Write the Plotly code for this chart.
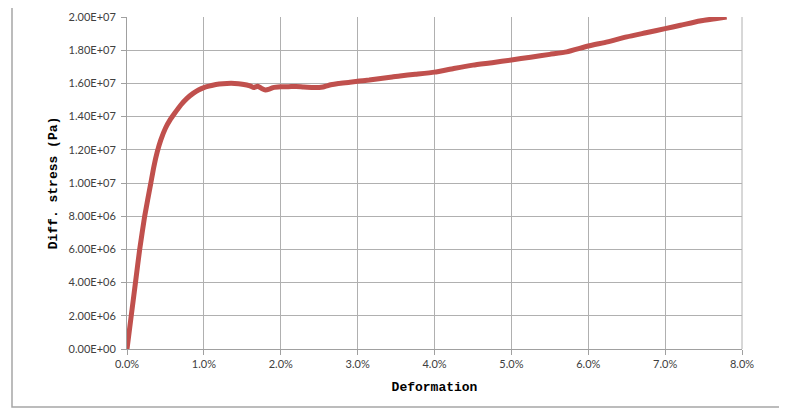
import plotly.graph_objects as go

# Deformation in percent, differential stress in Pa
deformation_pct = [0.00, 0.055, 0.11, 0.165, 0.23, 0.31, 0.35, 0.395, 0.44, 0.50, 0.56, 0.62,
                   0.70, 0.78, 0.86, 0.93, 1.00,
                   1.10, 1.20, 1.30, 1.40, 1.50, 1.60, 1.65, 1.70, 1.75, 1.80, 1.85, 1.90,
                   2.00, 2.10, 2.20, 2.30, 2.40, 2.50, 2.55, 2.60, 2.65, 2.75, 2.90, 3.00,
                   3.15, 3.30, 3.45, 3.55, 3.75, 4.00, 4.25, 4.50, 4.75, 5.00, 5.25, 5.50,
                   5.72, 6.00, 6.25, 6.50, 6.75, 7.00, 7.20, 7.45, 7.65, 7.80]
diff_stress = [0.0, 2.0e6, 4.0e6, 6.0e6, 8.0e6, 1.0e7, 1.1e7, 1.19e7, 1.26e7, 1.33e7, 1.38e7, 1.42e7,
               1.47e7, 1.51e7, 1.54e7, 1.56e7, 1.575e7,
               1.587e7, 1.596e7, 1.60e7, 1.60e7, 1.595e7, 1.585e7, 1.575e7, 1.583e7, 1.57e7, 1.56e7, 1.565e7, 1.575e7,
               1.58e7, 1.58e7, 1.582e7, 1.578e7, 1.576e7, 1.575e7, 1.578e7, 1.585e7, 1.592e7, 1.60e7, 1.607e7, 1.613e7,
               1.62e7, 1.63e7, 1.638e7, 1.645e7, 1.655e7, 1.668e7, 1.69e7, 1.71e7, 1.725e7, 1.741e7, 1.758e7, 1.775e7,
               1.79e7, 1.825e7, 1.85e7, 1.88e7, 1.905e7, 1.93e7, 1.95e7, 1.976e7, 1.99e7, 2.0e7]

x_tickvals = [0, 1, 2, 3, 4, 5, 6, 7, 8]
x_ticktext = ["0.0%", "1.0%", "2.0%", "3.0%", "4.0%", "5.0%", "6.0%", "7.0%", "8.0%"]
y_tickvals = [0, 2e6, 4e6, 6e6, 8e6, 1e7, 1.2e7, 1.4e7, 1.6e7, 1.8e7, 2e7]
y_ticktext = ["0.00E+00", "2.00E+06", "4.00E+06", "6.00E+06", "8.00E+06", "1.00E+07",
              "1.20E+07", "1.40E+07", "1.60E+07", "1.80E+07", "2.00E+07"]

fig = go.Figure()
fig.add_trace(go.Scatter(
    x=deformation_pct, y=diff_stress, mode="lines",
    line=dict(color="#C0504D", width=5, shape="spline", smoothing=0.5),
    showlegend=False, hoverinfo="skip",
))

tick_font = dict(family="Lato, 'Open Sans', sans-serif", size=11, color="#404040")
title_font = dict(family="'Liberation Mono', 'DejaVu Sans Mono', monospace", size=13, color="#000000")

# The page body adds an 8px offset; the figure is sized to fill the rest of the window.
fig.update_layout(
    width=779, height=404,
    margin=dict(l=119, r=45, t=9, b=63),
    paper_bgcolor="white", plot_bgcolor="white",
    xaxis=dict(
        range=[0, 8], tickvals=x_tickvals, ticktext=x_ticktext,
        showgrid=True, gridcolor="#B0B0B0", gridwidth=1,
        showline=True, linecolor="#A0A0A0", linewidth=1,
        ticks="outside", ticklen=5, tickcolor="#A0A0A0",
        tickfont=tick_font, zeroline=False, automargin=False,
        title=dict(text="<b>Deformation</b>", font=title_font, standoff=12),
    ),
    yaxis=dict(
        range=[0, 2e7], tickvals=y_tickvals, ticktext=y_ticktext,
        showgrid=True, gridcolor="#B0B0B0", gridwidth=1,
        showline=True, linecolor="#A0A0A0", linewidth=1,
        ticks="outside", ticklen=5, tickcolor="#A0A0A0",
        tickfont=tick_font, zeroline=False, automargin=False,
        ticklabelstandoff=3,
        title=dict(text="<b>Diff. stress (Pa)</b>", font=title_font, standoff=8),
    ),
    shapes=[
        dict(type="line", xref="paper", yref="paper", x0=1, x1=1, y0=0, y1=1,
             line=dict(color="#B0B0B0", width=1)),
        dict(type="rect", xref="paper", yref="paper",
             x0=(12 - 127) / 615, x1=(800 - 127) / 615,
             y0=(349 - 407) / 332, y1=(349 - 1) / 332,
             line=dict(color="#A6A6A6", width=1.5), layer="below"),
    ],
)

fig.write_html("out.html")
